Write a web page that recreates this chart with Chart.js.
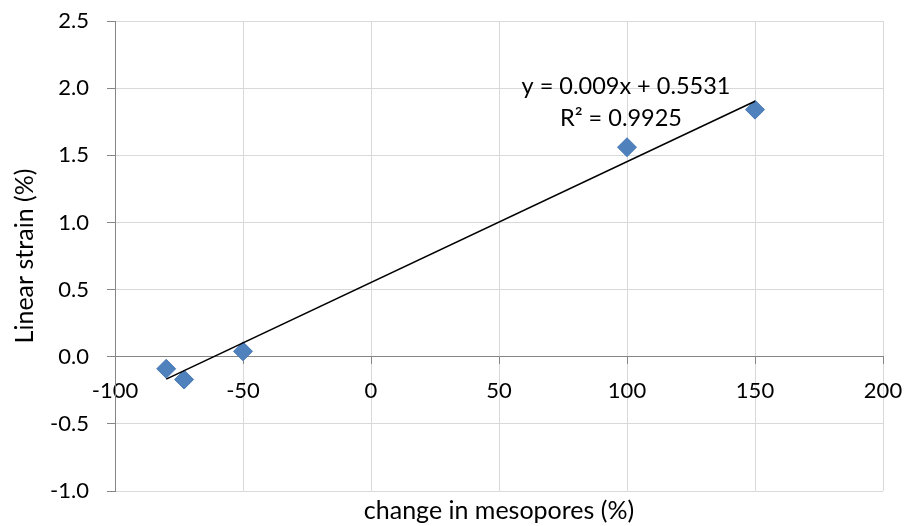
<!DOCTYPE html>
<html>
<head>
<meta charset="utf-8">
<script src="https://cdn.jsdelivr.net/npm/chart.js@4.4.1/dist/chart.umd.min.js"></script>
<style>
  html, body { margin: 0; padding: 0; background: #ffffff; }
  #wrap { width: 908px; height: 526px; }
</style>
</head>
<body>
<div id="wrap"><canvas id="chart" width="908" height="526"></canvas></div>
<script>
// Change in mesopore volume (%) against linear strain (%)
const mesoporeChange = [-80, -73, -50, 100, 150];
const linearStrain = [-0.09, -0.17, 0.04, 1.56, 1.84];

// Linear trendline reported for the series
const trendSlope = 0.009;
const trendIntercept = 0.5531;
const trendR2 = 0.9925;

const xTicks = [-100, -50, 0, 50, 100, 150, 200];
const yTicks = [-1.0, -0.5, 0.0, 0.5, 1.0, 1.5, 2.0, 2.5];

const FONT = 'Lato, "Open Sans", sans-serif';
const AXIS_GREY = '#868686';
const GRID_GREY = '#d9d9d9';

const points = mesoporeChange.map((x, i) => ({ x: x, y: linearStrain[i] }));
const xMinData = Math.min(...mesoporeChange);
const xMaxData = Math.max(...mesoporeChange);
const trendPoints = [xMinData, xMaxData].map(x => ({ x: x, y: trendSlope * x + trendIntercept }));

// Writes the fitted equation and R² above the upper part of the line
const equationLabel = {
  id: 'equationLabel',
  afterDatasetsDraw(chart) {
    const ctx = chart.ctx;
    const area = chart.chartArea;
    ctx.save();
    ctx.fillStyle = '#000000';
    ctx.font = '23.5px ' + FONT;
    ctx.textAlign = 'center';
    ctx.textBaseline = 'middle';
    ctx.fillText('y = ' + trendSlope + 'x + ' + trendIntercept, area.left + 511, area.top + 65);
    ctx.fillText('R\u00B2 = ' + trendR2, area.left + 506, area.top + 97);
    ctx.restore();
  }
};

// Keeps tick-label overhang from shrinking the plotting area
function noOverhang(scale) {
  scale.paddingTop = 0;
  scale.paddingBottom = 0;
  scale.paddingLeft = 0;
  scale.paddingRight = 0;
}

new Chart(document.getElementById('chart'), {
  type: 'scatter',
  data: {
    datasets: [
      {
        label: 'Linear strain',
        data: points,
        pointStyle: 'rectRot',
        pointRadius: 9.5,
        pointBackgroundColor: '#4f81bd',
        pointBorderColor: '#4a7ab5',
        pointBorderWidth: 1,
        showLine: false,
        order: 1
      },
      {
        label: 'Linear trend',
        type: 'line',
        data: trendPoints,
        borderColor: '#000000',
        borderWidth: 1.6,
        pointRadius: 0,
        fill: false,
        order: 0
      }
    ]
  },
  options: {
    responsive: false,
    animation: false,
    events: [],
    layout: { padding: { top: 21, right: 25, left: 0, bottom: 0 } },
    plugins: {
      legend: { display: false },
      tooltip: { enabled: false },
      title: { display: false }
    },
    scales: {
      x: {
        type: 'linear',
        position: { y: 0 },
        min: xTicks[0],
        max: xTicks[xTicks.length - 1],
        afterBuildTicks(scale) { scale.ticks = xTicks.map(v => ({ value: v })); },
        afterFit: noOverhang,
        ticks: {
          color: '#000000',
          font: { family: FONT, size: 22 },
          padding: 14,
          maxRotation: 0,
          autoSkip: false
        },
        grid: {
          color: GRID_GREY,
          tickColor: AXIS_GREY,
          tickLength: 7,
          lineWidth: 1
        },
        border: { color: AXIS_GREY, width: 1 }
      },
      y: {
        type: 'linear',
        position: 'left',
        min: yTicks[0],
        max: yTicks[yTicks.length - 1],
        afterBuildTicks(scale) { scale.ticks = yTicks.map(v => ({ value: v })); },
        afterFit(scale) { noOverhang(scale); scale.width = 115; },
        ticks: {
          color: '#000000',
          font: { family: FONT, size: 22 },
          padding: 18,
          callback: v => Number(v).toFixed(1)
        },
        grid: {
          color: GRID_GREY,
          tickColor: AXIS_GREY,
          tickLength: 8,
          lineWidth: 1
        },
        border: { color: AXIS_GREY, width: 1 },
        title: {
          display: true,
          text: 'Linear strain (%)',
          color: '#000000',
          font: { family: FONT, size: 25 },
          padding: { top: 10, bottom: 0 }
        }
      },
      xTitle: {
        type: 'linear',
        position: 'bottom',
        min: xTicks[0],
        max: xTicks[xTicks.length - 1],
        afterFit(scale) { noOverhang(scale); scale.height = 35; },
        ticks: { display: false },
        grid: { display: false, drawTicks: false },
        border: { display: false },
        title: {
          display: true,
          text: 'change in mesopores (%)',
          color: '#000000',
          font: { family: FONT, size: 25 },
          padding: { top: 0, bottom: 0 }
        }
      }
    }
  },
  plugins: [equationLabel]
});
</script>
</body>
</html>
